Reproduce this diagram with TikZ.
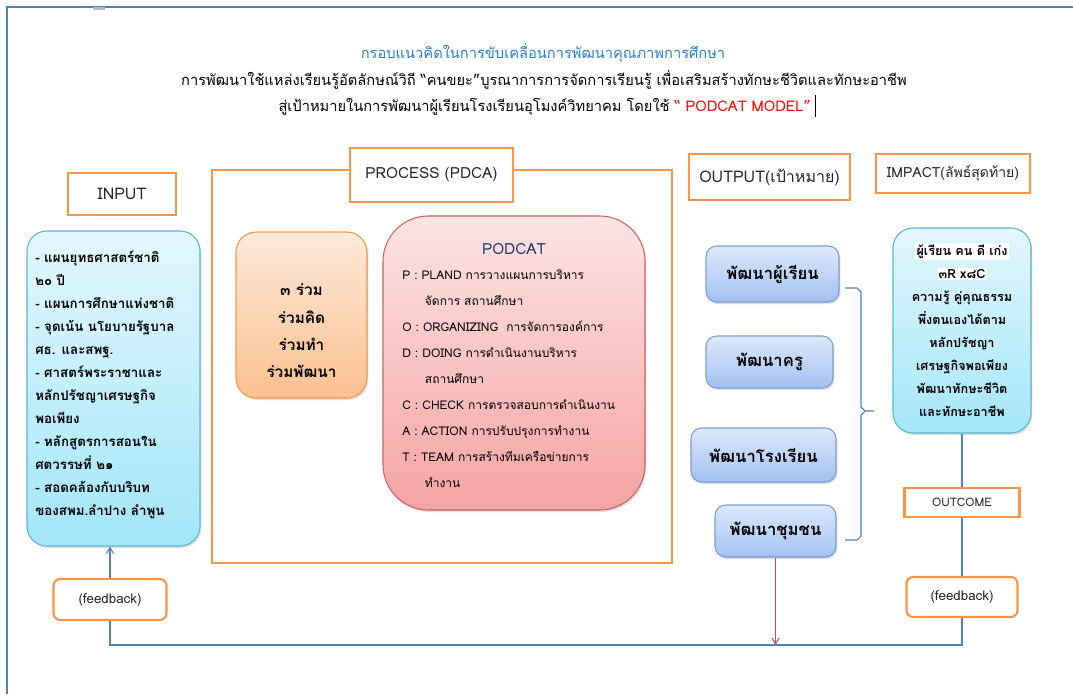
\documentclass[tikz,border=0pt]{standalone}
\usepackage{fontspec}
\setmainfont[Script=Thai]{Loma}
\usetikzlibrary{shadows,arrows.meta}
\definecolor{frameblue}{HTML}{4F81BD}
\definecolor{orgC}{HTML}{F79646}
\definecolor{titleblue}{HTML}{2A7DC8}
\definecolor{navy}{HTML}{1F3864}
\definecolor{redC}{HTML}{C0504D}
\definecolor{cyanBorder}{HTML}{5BB5D0}
\definecolor{cyanTop}{HTML}{E3F7FD}
\definecolor{cyanBot}{HTML}{A3E6FA}
\definecolor{orTop}{HTML}{FDEADB}
\definecolor{orBot}{HTML}{FAC08F}
\definecolor{pkTop}{HTML}{FDE4E4}
\definecolor{pkBot}{HTML}{F5A3A3}
\definecolor{pkBorder}{HTML}{C86464}
\definecolor{blTop}{HTML}{DDE8FA}
\definecolor{blBot}{HTML}{A3C1F2}
\definecolor{blBorder}{HTML}{7A9CD4}
\begin{document}
\begin{tikzpicture}[x=0.75pt,y=-0.75pt,
  lbl/.style={draw=orgC, line width=1.6pt, fill=white, inner sep=0pt, text=black!85},
  lblr/.style={lbl, rounded corners=5pt},
  shad/.style={drop shadow={shadow xshift=1pt, shadow yshift=-1.5pt, opacity=0.25}},
  cyanbox/.style={shad, draw=cyanBorder, line width=0.8pt, rounded corners=15pt, top color=cyanTop, bottom color=cyanBot, inner sep=0pt},
  orbox/.style={shad, draw=orgC, line width=0.8pt, rounded corners=15pt, top color=orTop, bottom color=orBot, inner sep=0pt},
  pkbox/.style={shad, draw=pkBorder, line width=0.8pt, rounded corners=34pt, top color=pkTop, bottom color=pkBot, inner sep=0pt},
  outbox/.style={shad, draw=blBorder, line width=0.8pt, rounded corners=8pt, top color=blTop, bottom color=blBot, inner sep=0pt, font=\fontsize{12.5}{14}\selectfont\bfseries},
  body/.style={inner sep=0pt, font=\fontsize{10}{17.25}\selectfont\bfseries},
  conn/.style={draw=frameblue, line width=0.8pt},
  barb/.style={-{Straight Barb[length=4.5pt,width=5.5pt]}}
]
\useasboundingbox (0,0) rectangle (1073,694);
% page frame
\draw[frameblue, line width=2pt] (1073,7) -- (7,7) -- (7,694);
\fill[gray!55] (93,7) rectangle (105,10);

% titles
\node[inner sep=0pt, font=\fontsize{11}{13}\selectfont, text=titleblue] (t1) at (543,53) {กรอบแนวคิดในการขับเคลื่อนการพัฒนาคุณภาพการศึกษา};
\node[inner sep=0pt, font=\fontsize{11}{13}\selectfont] (t2) at (544,80) {การพัฒนาใช้แหล่งเรียนรู้อัตลักษณ์วิถี “คนขยะ”บูรณาการการจัดการเรียนรู้ เพื่อเสริมสร้างทักษะชีวิตและทักษะอาชีพ};
\node[inner sep=0pt, font=\fontsize{11}{13}\selectfont] (t3) at (547,106) {สู่เป้าหมายในการพัฒนาผู้เรียนโรงเรียนอุโมงค์วิทยาคม โดยใช้ \textcolor{red}{“ PODCAT MODEL”}\hspace{3pt}\rule[-4pt]{0.6pt}{16pt}};

% INPUT
\node[lbl, minimum width=81pt, minimum height=31.5pt, font=\fontsize{12}{13}\selectfont] (inlbl) at (122,194) {INPUT};
\node[cyanbox, minimum width=129.75pt, minimum height=236.25pt] (inbox) at (113.5,388.5) {};
\node[body, anchor=north west, align=left] (intext) at (35,251) {- แผนยุทธศาสตร์ชาติ\\๒๐ ปี\\- แผนการศึกษาแห่งชาติ\\- จุดเน้น นโยบายรัฐบาล\\ศธ. และสพฐ.\\- ศาสตร์พระราชาและ\\หลักปรัชญาเศรษฐกิจ\\พอเพียง\\- หลักสูตรการสอนใน\\ศตวรรษที่ ๒๑\\- สอดคล้องกับบริบท\\ของสพม.ลำปาง ลำพูน};

% PROCESS
\node[draw=orgC, line width=1.6pt, minimum width=345pt, minimum height=294.75pt, inner sep=0pt] (proc) at (442,366.5) {};
\node[lbl, minimum width=122.25pt, minimum height=40.5pt, font=\fontsize{11.5}{12}\selectfont] (proclbl) at (431.5,175) {PROCESS (PDCA)};
\node[orbox, minimum width=98.25pt, minimum height=124.5pt] (three) at (301.5,315) {};
\node[inner sep=0pt, align=center, font=\fontsize{11.5}{20.5}\selectfont\bfseries] (threetext) at (301.5,331) {๓ ร่วม\\ร่วมคิด\\ร่วมทำ\\ร่วมพัฒนา};
\node[pkbox, minimum width=196.5pt, minimum height=220.5pt] (pod) at (514,363) {};
\node[inner sep=0pt, text=navy, font=\fontsize{11.5}{13}\selectfont] (podtitle) at (514,249) {PODCAT};
\node[inner sep=0pt, anchor=north west, align=left, font=\fontsize{9}{19.5}\selectfont] (podtext) at (402,270) {P : PLAND การวางแผนการบริหาร\\\hspace{17pt}จัดการ สถานศึกษา\\O : ORGANIZING\ \ การจัดการองค์การ\\D : DOING การดำเนินงานบริหาร\\\hspace{17pt}สถานศึกษา\\C : CHECK การตรวจสอบการดำเนินงาน\\A : ACTION การปรับปรุงการทำงาน\\T : TEAM การสร้างทีมเครือข่ายการ\\\hspace{17pt}ทำงาน};

% OUTPUT
\node[lbl, minimum width=120.75pt, minimum height=34.5pt, font=\fontsize{12}{13}\selectfont] (outlbl) at (769.5,177) {OUTPUT(เป้าหมาย)};
\node[outbox, minimum width=99.75pt, minimum height=42pt] (o1) at (772.5,274) {พัฒนาผู้เรียน};
\node[outbox, minimum width=95.25pt, minimum height=39pt] (o2) at (769.5,362) {พัฒนาครู};
\node[outbox, minimum width=108.75pt, minimum height=40.5pt] (o3) at (763.5,455) {พัฒนาโรงเรียน};
\node[outbox, minimum width=90.75pt, minimum height=39pt] (o4) at (775.5,531) {พัฒนาชุมชน};

% brace
\coordinate (b1) at (845,288);
\coordinate (b2) at (845,540);
\coordinate (btip) at (874,411);
\draw[conn] (b1) -- (857,288) -- (861,292) -- (861,407) -- (865,411) -- (btip)
            (865,411) -- (861,415) -- (861,536) -- (857,540) -- (b2);

% IMPACT
\node[lbl, minimum width=115.5pt, minimum height=29.25pt, font=\fontsize{10.5}{12}\selectfont] (implbl) at (953,173.5) {IMPACT(ลัพธ์สุดท้าย)};
\node[cyanbox, minimum width=103.5pt, minimum height=153.75pt] (imp) at (962,330.5) {};
\setlength{\fboxsep}{1pt}
\node[inner sep=0pt, align=center, font=\fontsize{9.5}{17.25}\selectfont\bfseries] (imptext) at (962,330) {\colorbox{white}{ผู้เรียน คน ดี เก่ง}\\\colorbox{white}{๓R x๘C}\\ความรู้ คู่คุณธรรม\\พึ่งตนเองได้ตาม\\หลักปรัชญา\\เศรษฐกิจพอเพียง\\พัฒนาทักษะชีวิต\\และทักษะอาชีพ};
\node[lbl, minimum width=86.25pt, minimum height=21.75pt, font=\fontsize{8.8}{9}\selectfont] (outc) at (962,502.5) {OUTCOME};
\node[lblr, minimum width=83.25pt, minimum height=30pt, font=\fontsize{10}{11}\selectfont] (fbR) at (962,597) {(feedback)};
\node[lblr, minimum width=84.75pt, minimum height=30.75pt, font=\fontsize{10}{11}\selectfont] (fbL) at (110,599.5) {(feedback)};

% connectors
\coordinate (bot) at (0,645);
\draw[conn] (imp.south) -- (outc.north);
\draw[conn] (outc.south) -- (fbR.north);
\draw[conn] (fbR.south) -- (fbR.south |- bot) -- (fbL.south |- bot) -- (fbL.south);
\draw[conn, barb] (fbL.north) -- (fbL.north |- inbox.south);
\draw[redC, line width=0.8pt, barb] (o4.south) -- (o4.south |- bot);
\end{tikzpicture}
\end{document}
